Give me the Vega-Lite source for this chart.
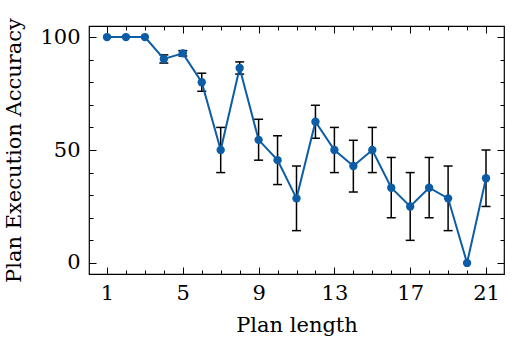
{
  "$schema": "https://vega.github.io/schema/vega-lite/v6.json",
  "width": 415,
  "height": 248,
  "autosize": "none",
  "padding": {"left": 89, "top": 26, "right": 10, "bottom": 74},
  "background": "#ffffff",
  "data": {
    "values": [
      {"n": 1, "acc": 100, "lo": null, "hi": null},
      {"n": 2, "acc": 100, "lo": null, "hi": null},
      {"n": 3, "acc": 100, "lo": null, "hi": null},
      {"n": 4, "acc": 90.3, "lo": 88.5, "hi": 92.1},
      {"n": 5, "acc": 92.8, "lo": 91.6, "hi": 94.0},
      {"n": 6, "acc": 80, "lo": 76, "hi": 84},
      {"n": 7, "acc": 50, "lo": 40, "hi": 60},
      {"n": 8, "acc": 86.3, "lo": 83.6, "hi": 89},
      {"n": 9, "acc": 54.5, "lo": 45.5, "hi": 63.6},
      {"n": 10, "acc": 45.5, "lo": 34.7, "hi": 56.3},
      {"n": 11, "acc": 28.6, "lo": 14.3, "hi": 42.9},
      {"n": 12, "acc": 62.5, "lo": 55.2, "hi": 69.8},
      {"n": 13, "acc": 50, "lo": 40, "hi": 60},
      {"n": 14, "acc": 42.9, "lo": 31.4, "hi": 54.3},
      {"n": 15, "acc": 50, "lo": 40, "hi": 60},
      {"n": 16, "acc": 33.3, "lo": 20, "hi": 46.7},
      {"n": 17, "acc": 25, "lo": 10, "hi": 40},
      {"n": 18, "acc": 33.3, "lo": 20, "hi": 46.7},
      {"n": 19, "acc": 28.6, "lo": 14.3, "hi": 42.9},
      {"n": 20, "acc": 0, "lo": null, "hi": null},
      {"n": 21, "acc": 37.5, "lo": 25, "hi": 50}
    ]
  },
  "config": {
    "view": {"stroke": "#000000", "strokeWidth": 1.2},
    "font": "DejaVu Serif",
    "axis": {
      "domain": false,
      "grid": false,
      "tickColor": "#000000",
      "tickWidth": 1,
      "labelFont": "DejaVu Serif",
      "labelFontSize": 21,
      "labelColor": "#000000",
      "titleFont": "DejaVu Serif",
      "titleFontSize": 21,
      "titleFontWeight": "normal",
      "titleColor": "#000000"
    }
  },
  "layer": [
    {
      "mark": {"type": "rule", "color": "#000000", "strokeWidth": 1.5},
      "encoding": {
        "x": {
          "field": "n", "type": "quantitative",
          "scale": {"domain": [0.05, 21.95], "nice": false, "zero": false},
          "axis": {
            "orient": "top", "labels": false, "title": null,
            "values": [1,2,3,4,5,6,7,8,9,10,11,12,13,14,15,16,17,18,19,20,21],
            "tickSize": {"condition": {"test": "(datum.value - 1) % 4 === 0", "value": -7}, "value": -4}
          }
        },
        "y": {
          "field": "lo", "type": "quantitative",
          "scale": {"domain": [-4.9, 104.9], "nice": false, "zero": false},
          "axis": {
            "orient": "right", "labels": false, "title": null,
            "values": [0,10,20,30,40,50,60,70,80,90,100],
            "tickSize": {"condition": {"test": "datum.value % 50 === 0", "value": -7}, "value": -4}
          }
        },
        "y2": {"field": "hi"}
      }
    },
    {
      "mark": {"type": "tick", "orient": "horizontal", "color": "#000000", "size": 9, "thickness": 1.5, "opacity": 1},
      "encoding": {
        "x": {"field": "n", "type": "quantitative", "axis": null},
        "y": {"field": "lo", "type": "quantitative", "axis": null}
      }
    },
    {
      "mark": {"type": "tick", "orient": "horizontal", "color": "#000000", "size": 9, "thickness": 1.5, "opacity": 1},
      "encoding": {
        "x": {"field": "n", "type": "quantitative", "axis": null},
        "y": {"field": "hi", "type": "quantitative", "axis": null}
      }
    },
    {
      "mark": {"type": "line", "color": "#0C5DA5", "strokeWidth": 2},
      "encoding": {
        "x": {
          "field": "n", "type": "quantitative",
          "axis": {
            "orient": "bottom", "title": "Plan length",
            "values": [1,2,3,4,5,6,7,8,9,10,11,12,13,14,15,16,17,18,19,20,21],
            "labelExpr": "(datum.value - 1) % 4 === 0 ? datum.label : ''",
            "tickSize": {"condition": {"test": "(datum.value - 1) % 4 === 0", "value": -7}, "value": -4},
            "labelPadding": 15,
            "titlePadding": 11
          }
        },
        "y": {
          "field": "acc", "type": "quantitative",
          "axis": {
            "orient": "left", "title": "Plan Execution Accuracy",
            "values": [0,10,20,30,40,50,60,70,80,90,100],
            "labelExpr": "datum.value % 50 === 0 ? datum.label : ''",
            "tickSize": {"condition": {"test": "datum.value % 50 === 0", "value": -7}, "value": -4},
            "labelPadding": 16,
            "titlePadding": 15
          }
        }
      }
    },
    {
      "mark": {"type": "point", "filled": true, "color": "#0C5DA5", "size": 70, "opacity": 1},
      "encoding": {
        "x": {"field": "n", "type": "quantitative", "axis": null},
        "y": {"field": "acc", "type": "quantitative", "axis": null}
      }
    }
  ],
  "resolve": {"axis": {"x": "independent", "y": "independent"}}
}
